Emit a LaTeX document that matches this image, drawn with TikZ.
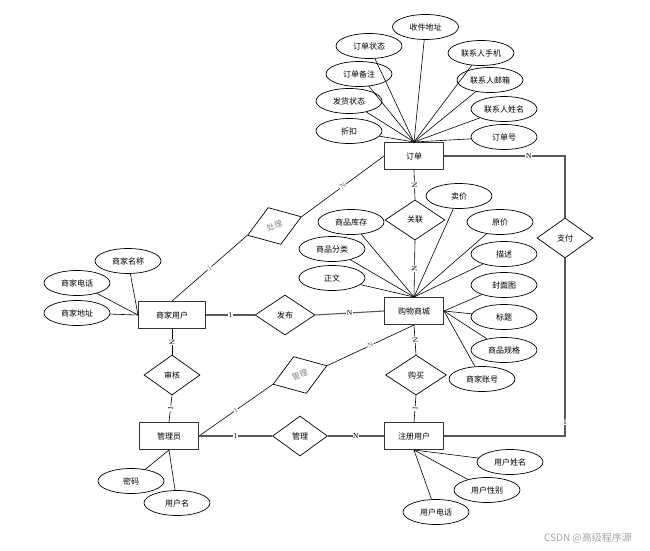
\documentclass[tikz,border=0pt]{standalone}
\usepackage{fontspec}
\setmainfont{Liberation Serif}
\newfontfamily\cjk{Noto Sans CJK SC}
\usetikzlibrary{shapes.geometric}
\begin{document}
\begin{tikzpicture}[x=1pt,y=-1pt,
  every node/.style={font=\cjk\fontsize{8}{9}\selectfont},
  entity/.style={draw=black!80, line width=1pt, minimum width=59pt, minimum height=27pt, inner sep=1pt, fill=white},
  attr/.style={draw, ellipse, line width=0.7pt, minimum width=66pt, minimum height=25pt, inner sep=0pt},
  rel/.style={draw, diamond, line width=0.7pt, minimum width=58pt, minimum height=40pt, inner sep=0pt},
  link/.style={line width=0.6pt},
  rlink/.style={line width=1.1pt, draw=black!65},
  card/.style={font=\rmfamily\fontsize{7.5}{8}\selectfont, fill=white, inner sep=0.6pt},
  gcard/.style={card, text=black!55},
]
\useasboundingbox (0,0) rectangle (650,551);

% entities
\node[entity] (order) at (414,156) {订单};
\node[entity] (mall) at (414,311) {购物商城};
\node[entity, minimum width=67pt] (merchant) at (172,315) {商家用户};
\node[entity] (admin) at (169,436) {管理员};
\node[entity] (user) at (414,436) {注册用户};

% relationships
\node[rel, minimum width=60pt] (assoc) at (415,220) {关联};
\node[rel, minimum width=60pt] (publish) at (285,315) {发布};
\node[rel, minimum width=56pt] (audit) at (172,375) {审核};
\node[rel, minimum width=55pt] (manage) at (300,436) {管理};
\node[rel, minimum width=61pt] (buy) at (416,375) {购买};
\node[rel, minimum width=56pt] (pay) at (565,238) {支付};
\node[rel, rotate=19, minimum width=57pt, minimum height=39pt, text=black!50] (handle) at (274.5,226) {处理};
\node[rel, rotate=19, minimum width=57pt, minimum height=39pt, text=black!50] (manage2) at (300,375) {管理};

% order attributes
\node[attr] (a1) at (425.5,27) {收件地址};
\node[attr] (a2) at (369,46) {订单状态};
\node[attr] (a3) at (481,53) {联系人手机};
\node[attr] (a4) at (359,74) {订单备注};
\node[attr] (a5) at (490,80) {联系人邮箱};
\node[attr] (a6) at (349,101) {发货状态};
\node[attr] (a7) at (504,109) {联系人姓名};
\node[attr] (a8) at (349,131) {折扣};
\node[attr] (a9) at (504,137) {订单号};
\foreach \i in {1,...,9} \draw[link] (a\i) -- (order.north);

% mall attributes
\node[attr] (b1) at (459,196) {卖价};
\node[attr] (b2) at (351,222) {商品库存};
\node[attr] (b3) at (500,222) {原价};
\node[attr] (b4) at (332,249) {商品分类};
\node[attr] (b5) at (504,254) {描述};
\node[attr] (b6) at (332,278) {正文};
\node[attr] (b7) at (504,285) {封面图};
\node[attr] (b8) at (504,317) {标题};
\node[attr] (b9) at (504,350) {商品规格};
\node[attr] (b10) at (482,379) {商家账号};
\foreach \i in {1,...,6} \draw[link] (b\i) -- (mall.north);
\foreach \i in {7,...,10} \draw[link] (b\i) -- (mall.east);

% merchant attributes
\node[attr] (c1) at (128,261) {商家名称};
\node[attr] (c2) at (77,283) {商家电话};
\node[attr] (c3) at (77,313) {商家地址};
\foreach \i in {1,2,3} \draw[link] (c\i) -- (merchant.west);

% admin attributes
\node[attr] (d1) at (131,481) {密码};
\node[attr] (d2) at (177,503) {用户名};
\foreach \i in {1,2} \draw[link] (d\i) -- (admin.south);

% user attributes
\node[attr] (e1) at (510,462) {用户姓名};
\node[attr] (e2) at (487,490) {用户性别};
\node[attr] (e3) at (436,512) {用户电话};
\foreach \i in {1,2,3} \draw[link] (e\i) -- (user.south);

% relationship connectors
\draw[link] (order.south) -- node[card, sloped] {N} (assoc.north);
\draw[link] (assoc.south) -- node[card, sloped] {N} (mall.north);
\draw[link] (merchant.north) -- node[gcard, sloped] {1} (handle.west);
\draw[link] (handle.east) -- node[gcard, sloped] {N} (order.west);
\draw[rlink] (merchant.east) -- node[card] {1} (publish.west);
\draw[rlink] (publish.east) -- node[card] {N} (mall.west);
\draw[link] (merchant.south) -- node[card, sloped] {N} (audit.north);
\draw[link] (audit.south) -- node[card, sloped] {1} (admin.north);
\draw[link] (admin.east) -- node[gcard, sloped] {1} (manage2.west);
\draw[link] (manage2.east) -- node[gcard, sloped] {N} (mall.south);
\draw[rlink] (admin.east) -- node[card] {1} (manage.west);
\draw[rlink] (manage.east) -- node[card] {N} (user.west);
\draw[link] (mall.south) -- node[card, sloped] {N} (buy.north);
\draw[link] (buy.south) -- node[card, sloped] {1} (user.north);
\draw[rlink] (order.east) -| node[card, pos=0.35] {N} (pay.north);
\draw[rlink] (pay.south) |- node[card, pos=0.46] {1} (user.east);

% watermark
\node[font=\cjk\fontsize{10}{12}\selectfont, text=black!35] (wm) at (588,538) {CSDN @高级程序源};
\end{tikzpicture}
\end{document}
